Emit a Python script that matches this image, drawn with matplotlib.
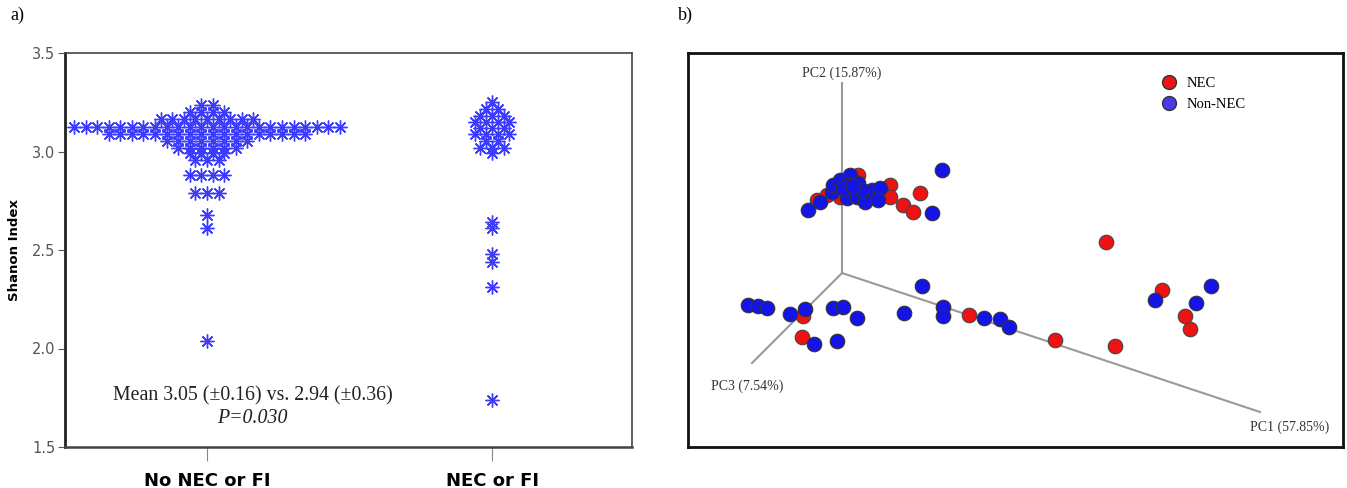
import numpy as np
import matplotlib
matplotlib.use("Agg")
from matplotlib import pyplot as plt
from matplotlib.lines import Line2D

# ---- panel a: Shannon index dot plot (row value, number of stars in row)
groups = ["No NEC or FI", "NEC or FI"]
no_nec_vals = [3.235, 3.20, 3.165, 3.125, 3.09, 3.055, 3.02, 2.99, 2.955, 2.88, 2.79, 2.68, 2.61, 2.04]
no_nec_cnt = [2, 4, 9, 24, 18, 8, 6, 4, 3, 4, 3, 1, 1, 1]
nec_vals = [3.25, 3.215, 3.18, 3.15, 3.12, 3.09, 3.055, 3.02, 2.99, 2.64, 2.61, 2.48, 2.44, 2.31, 1.74]
nec_cnt = [1, 2, 3, 4, 3, 4, 2, 3, 1, 1, 1, 1, 1, 1, 1]
yticks = [1.5, 2.0, 2.5, 3.0, 3.5]

# ---- panel b: projected PCoA coordinates
nec_x = [-0.25, -0.15, -0.02, 0.16, 0.26, 0.48, 0.48, 0.78, 0.61, 0.71,
         -0.39, -0.40, 1.27, 2.13, 2.64, 3.20, 3.43, 3.48, 2.73]
nec_y = [0.73, 0.78, 0.76, 0.98, 0.81, 0.88, 0.76, 0.80, 0.68, 0.61,
         -0.43, -0.64, -0.42, -0.67, 0.31, -0.17, -0.43, -0.56, -0.73]
non_x = [1.00, -0.34, -0.22, -0.10, -0.09, -0.02, 0.08, 0.06, 0.16, 0.05,
         0.15, 0.23, 0.30, 0.38, 0.36, 0.90, 0.20, 0.01, 0.11,
         -0.94, -0.84, -0.75, -0.52, -0.37, -0.28, -0.09, 0.01, 0.15, -0.05,
         0.80, 0.62, 1.01, 1.01, 1.42, 1.58, 1.67, 3.13, 3.69, 3.54]
non_y = [1.03, 0.63, 0.71, 0.81, 0.88, 0.93, 0.98, 0.88, 0.90, 0.75,
         0.76, 0.71, 0.83, 0.85, 0.73, 0.60, 0.83, 0.85, 0.87,
         -0.32, -0.33, -0.35, -0.41, -0.36, -0.71, -0.35, -0.34, -0.45, -0.68,
         -0.13, -0.40, -0.34, -0.43, -0.45, -0.46, -0.54, -0.27, -0.13, -0.30]
axis_names = ["PC1 (57.85%)", "PC2 (15.87%)", "PC3 (7.54%)"]
axis_ends = [(4.18, -1.39), (0.0, 1.90), (-0.90, -0.90)]


def stack_rows(center, vals, counts, step=0.0405):
    xs, ys = [], []
    for v, n in zip(vals, counts):
        off = (np.arange(n) - (n - 1) / 2.0) * step
        xs.extend(center + off)
        ys.extend([v] * n)
    return xs, ys


W, H = 1347, 488
fig = plt.figure(figsize=(W / 100, H / 100), dpi=100)

# ================= panel a
ax1 = fig.add_axes([65 / W, 1 - 447 / H, (632 - 65) / W, (447 - 53) / H])
for i, (vals, cnt) in enumerate([(no_nec_vals, no_nec_cnt), (nec_vals, nec_cnt)]):
    xs, ys = stack_rows(i, vals, cnt)
    ax1.plot(xs, ys, linestyle="none", marker=(8, 2, 0), markersize=10,
             markeredgewidth=1.0, color="#3c3cff")

ax1.set_xlim(-0.498, 1.491)
ax1.set_ylim(1.5, 3.5)
ax1.set_yticks(yticks)
ax1.set_yticklabels([f"{t:.1f}" for t in yticks], fontsize=10.5, color="#555555")
ax1.set_xticks([0, 1])
ax1.set_xticklabels(groups, fontsize=13, fontweight="bold", family="DejaVu Sans")
ax1.tick_params(axis="x", length=10, color="#888888", pad=8)
ax1.tick_params(axis="y", length=5, color="#555555", pad=2)
for s in ax1.spines.values():
    s.set_color("#444444")
    s.set_linewidth(1.2)
ax1.spines["left"].set_color("#222222")
ax1.spines["left"].set_linewidth(2)
ax1.spines["bottom"].set_linewidth(1.8)

ax1.text(0.16, 1.76, "Mean 3.05 (\u00b10.16) vs. 2.94 (\u00b10.36)", ha="center", va="center",
         fontsize=14.3, family="Liberation Serif", color="#222222")
ax1.text(0.16, 1.645, "P=0.030", ha="center", va="center", fontsize=14.3,
         family="Liberation Serif", style="italic", color="#222222")
fig.text(15 / W, 1 - 250 / H, "Shanon Index", rotation=90, ha="center", va="center",
         fontsize=9.5, fontweight="bold")
fig.text(10 / W, 1 - 15 / H, "a)", ha="left", va="center", fontsize=13, family="Liberation Serif")
fig.text(678 / W, 1 - 15 / H, "b)", ha="left", va="center", fontsize=13, family="Liberation Serif")

# ================= panel b
ax2 = fig.add_axes([688 / W, 1 - 447 / H, (1343 - 688) / W, (447 - 53) / H])
ax2.set_xlim(-1.54, 5.01)
ax2.set_ylim(-1.74, 2.20)
ax2.set_xticks([])
ax2.set_yticks([])
for s in ax2.spines.values():
    s.set_color("#111111")
    s.set_linewidth(2)

for ex, ey in axis_ends:
    ax2.plot([0, ex], [0, ey], color="#9a9a9a", linewidth=1.5, zorder=1)

ax2.scatter(nec_x, nec_y, s=110, color="#f01212", edgecolor="#444444", linewidth=0.8, zorder=3)
ax2.scatter(non_x, non_y, s=110, color="#1414e6", edgecolor="#333333", linewidth=0.8, zorder=3)

lab_kw = dict(fontsize=10, family="Liberation Serif", color="#333333")
ax2.text(axis_ends[1][0], axis_ends[1][1] + 0.10, axis_names[1], ha="center", va="center", **lab_kw)
ax2.text(axis_ends[2][0] - 0.05, axis_ends[2][1] - 0.23, axis_names[2], ha="center", va="center", **lab_kw)
ax2.text(axis_ends[0][0] + 0.30, axis_ends[0][1] - 0.15, axis_names[0], ha="center", va="center", **lab_kw)

handles = [
    Line2D([], [], linestyle="none", marker="o", markersize=10, markerfacecolor="#f01212",
           markeredgecolor="#333333", label="NEC"),
    Line2D([], [], linestyle="none", marker="o", markersize=10, markerfacecolor="#4a3aea",
           markeredgecolor="#333333", label="Non-NEC"),
]
ax2.legend(handles=handles, loc="upper left", bbox_to_anchor=(0.703, 0.955), frameon=False,
           prop={"family": "Liberation Serif", "size": 10.5}, handletextpad=0.2,
           labelspacing=0.55, borderaxespad=0)

fig.savefig("out.png", dpi=100)
